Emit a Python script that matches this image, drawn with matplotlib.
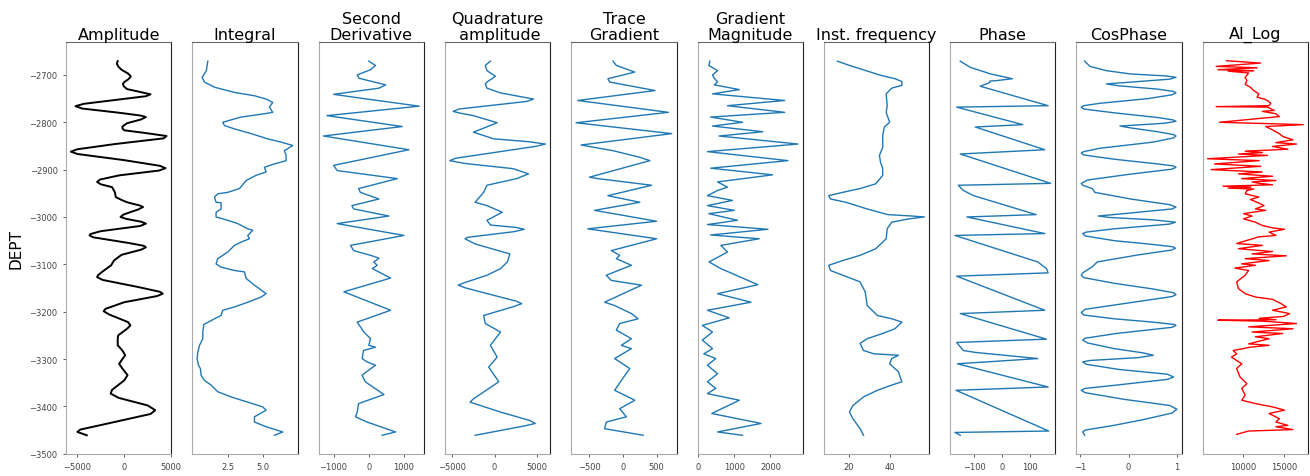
import matplotlib
matplotlib.use("Agg")
from matplotlib import pyplot as plt

# each track: depth list + value list

amp_depth = [-2671, -2676, -2682, -2689, -2697, -2703, -2709, -2715, -2719, -2724, -2730, -2736,
             -2741, -2745, -2753, -2761, -2766, -2771, -2780, -2786, -2789, -2794, -2802, -2809,
             -2813, -2817, -2822, -2829, -2834, -2846, -2857, -2862, -2867, -2880, -2892, -2897,
             -2902, -2912, -2921, -2926, -2931, -2937, -2948, -2958, -2964, -2969, -2976, -2979,
             -2984, -2995, -3000, -3004, -3010, -3014, -3019, -3030, -3036, -3039, -3043, -3055,
             -3061, -3064, -3069, -3080, -3092, -3102, -3115, -3123, -3127, -3133, -3148, -3158,
             -3162, -3167, -3180, -3194, -3199, -3206, -3222, -3229, -3236, -3250, -3257, -3271,
             -3282, -3292, -3300, -3310, -3320, -3334, -3345, -3365, -3373, -3382, -3398, -3408,
             -3416, -3435, -3449, -3454, -3461]
amp_val = [-700, -800, -650, -300, 400, 700, 450, 0, -150, -50, 300, 1700,
           2800, 2300, -1000, -4300, -5200, -4500, -500, 1800, 2300, 1800, 300, -200,
           -200, 0, 2000, 4500, 4200, -1000, -5000, -5700, -5000, 0, 3800, 4400,
           3700, -500, -2600, -2900, -2500, -1300, -1000, -900, -300, 300, 1700, 2000,
           1500, -100, -400, 200, 1800, 2300, 1700, -2500, -3600, -3700, -3300, 500,
           2100, 2300, 1800, -300, -1100, -1400, -2300, -2800, -2900, -2300, 1500, 3800,
           4100, 3500, 0, -2000, -2200, -1600, 400, 650, 300, -650, -700, -700,
           -200, 100, -200, -550, -200, 350, 0, -1300, -1450, -600, 2500, 3300,
           2800, -1500, -4700, -5000, -4000]

int_depth = [-2671, -2680, -2691, -2705, -2715, -2726, -2737, -2744, -2751, -2758, -2768, -2779,
             -2782, -2789, -2800, -2807, -2814, -2824, -2835, -2842, -2849, -2860, -2870, -2881,
             -2888, -2895, -2905, -2912, -2923, -2940, -2948, -2951, -2958, -2969, -2970, -2983,
             -2990, -3000, -3007, -3014, -3025, -3028, -3039, -3046, -3053, -3060, -3074, -3088,
             -3099, -3106, -3113, -3116, -3130, -3144, -3162, -3169, -3180, -3190, -3197, -3208,
             -3215, -3227, -3243, -3257, -3271, -3285, -3299, -3313, -3320, -3334, -3345, -3355,
             -3369, -3380, -3391, -3401, -3408, -3422, -3433, -3443, -3454, -3461]
int_val = [1.10, 1.05, 1.0, 0.70, 0.86, 1.57, 2.97, 4.37, 5.19, 5.65, 5.42, 5.65,
           5.07, 3.43, 2.15, 2.27, 2.97, 4.14, 5.30, 6.24, 7.06, 6.47, 6.59, 6.59,
           5.77, 5.07, 5.19, 4.49, 3.79, 3.32, 2.5, 1.80, 1.57, 1.68, 2.03, 2.03,
           1.68, 1.68, 2.5, 3.20, 3.90, 4.25, 3.9, 4.02, 3.43, 2.97, 2.5, 1.80,
           1.68, 2.03, 2.97, 3.67, 3.79, 4.37, 5.19, 4.84, 3.90, 2.97, 2.15, 2.03,
           1.57, 0.82, 0.75, 0.75, 0.52, 0.40, 0.35, 0.44, 0.58, 0.63, 0.86, 1.33,
           1.80, 2.73, 3.90, 4.95, 5.19, 4.37, 4.37, 5.19, 6.36, 5.77]

sd_depth = [-2671, -2680, -2689, -2700, -2707, -2714, -2721, -2728, -2741, -2749, -2766, -2786,
            -2809, -2829, -2858, -2891, -2902, -2919, -2940, -2948, -2962, -2976, -2983, -2998,
            -3014, -3039, -3060, -3071, -3081, -3087, -3095, -3102, -3109, -3129, -3158, -3197,
            -3222, -3243, -3257, -3271, -3275, -3282, -3299, -3306, -3313, -3334, -3348, -3375,
            -3394, -3412, -3422, -3433, -3454, -3461]
sd_val = [0, 190, 50, -330, -280, 100, 480, 290, -1000, -240, 1430, -1190,
          950, -1290, 1140, -1000, -900, 810, -290, -240, 290, -480, -430, 570,
          -900, 1000, -520, -430, 50, 290, 140, 240, 100, 620, -710, 620,
          -330, -140, 50, 0, 190, -150, -190, -50, 190, -190, -100, 430,
          -290, -330, -380, -50, 760, 380]

qa_depth = [-2671, -2680, -2691, -2703, -2715, -2719, -2728, -2738, -2744, -2751, -2756, -2772,
            -2777, -2781, -2786, -2801, -2821, -2835, -2841, -2846, -2851, -2876, -2881, -2887,
            -2898, -2909, -2919, -2933, -2948, -2969, -2976, -2990, -3007, -3017, -3022, -3026,
            -3031, -3043, -3046, -3057, -3078, -3095, -3109, -3123, -3139, -3144, -3150, -3158,
            -3178, -3183, -3189, -3208, -3225, -3243, -3271, -3296, -3317, -3348, -3384, -3391,
            -3412, -3430, -3436, -3441, -3461]
qa_val = [-500, -1100, -900, 100, -900, -1100, -900, 700, 2500, 4600, 3800, -4200,
          -4900, -4000, -2500, 300, -2500, -100, 4000, 6000, 4800, -4600, -5300, -3500,
          2200, 4000, 2600, -900, -1300, -2300, -900, 900, -900, -500, 2500, 3500,
          2300, -3200, -3500, -2300, 1800, 1500, 700, -900, -3600, -4300, -3400, -1700,
          2600, 3200, 2300, -1300, -1100, 700, -500, 300, -700, 500, -2500, -2900,
          700, 4200, 4800, 3600, -2300]

tg_depth = [-2671, -2680, -2694, -2708, -2715, -2733, -2754, -2779, -2801, -2824, -2848, -2860,
            -2874, -2881, -2916, -2919, -2933, -2955, -2969, -2986, -3009, -3025, -3046, -3071,
            -3081, -3088, -3102, -3123, -3134, -3144, -3180, -3187, -3204, -3215, -3225, -3239,
            -3257, -3271, -3278, -3299, -3320, -3340, -3366, -3387, -3405, -3422, -3433, -3447,
            -3461]
tg_val = [-150, -100, 175, -225, -200, 475, -675, 675, -700, 725, -625, -150,
          250, 400, -500, -375, 425, -225, 250, -425, 500, -525, 500, -175,
          -50, -100, 125, -250, -175, 275, -275, -125, 125, 225, -50, -100,
          125, -25, 125, -125, 100, 0, -125, 175, -50, 50, -250, -275,
          300]

gm_depth = [-2671, -2680, -2691, -2700, -2707, -2715, -2721, -2731, -2740, -2754, -2765, -2779,
            -2789, -2800, -2808, -2820, -2829, -2846, -2862, -2881, -2897, -2911, -2926, -2937,
            -2944, -2955, -2965, -2976, -2986, -2993, -3007, -3016, -3026, -3038, -3046, -3060,
            -3074, -3095, -3109, -3143, -3162, -3180, -3197, -3213, -3229, -3243, -3260, -3278,
            -3289, -3299, -3313, -3331, -3348, -3362, -3373, -3387, -3415, -3436, -3454, -3461]
gm_val = [330, 300, 540, 400, 450, 540, 450, 1140, 400, 2390, 815, 2390,
          350, 1230, 400, 1790, 580, 2760, 260, 2480, 350, 2060, 540, 815,
          540, 260, 950, 260, 1000, 300, 1090, 260, 1930, 350, 1690, 630,
          815, 305, 630, 1650, 540, 1460, 260, 860, 120, 400, 120, 400,
          160, 490, 260, 540, 260, 490, 260, 1140, 380, 1740, 540, 1230]

if_depth = [-2671, -2680, -2687, -2701, -2708, -2714, -2722, -2728, -2740, -2765, -2779, -2800,
            -2810, -2828, -2853, -2870, -2884, -2898, -2912, -2930, -2940, -2948, -2955, -2962,
            -2969, -2983, -2995, -2998, -3000, -3004, -3011, -3025, -3046, -3067, -3081, -3092,
            -3102, -3113, -3123, -3137, -3158, -3187, -3208, -3215, -3222, -3236, -3246, -3257,
            -3267, -3282, -3289, -3292, -3299, -3310, -3327, -3348, -3355, -3366, -3380, -3398,
            -3412, -3426, -3447, -3461]
if_val = [14.4, 20.3, 25.5, 35.7, 42.6, 46, 46, 41, 38.3, 38.8, 38.3, 40,
          37.4, 36.6, 36.6, 35, 35.5, 36.6, 36.6, 33.2, 25.5, 17, 10.1, 11,
          18.6, 28.9, 39.1, 51, 57, 49.4, 41, 38.8, 38.3, 33.2, 25.5, 17,
          10.1, 11, 17, 25.5, 28, 29, 34, 41, 46, 42.6, 36.6, 29,
          25.5, 27.2, 32.3, 44.3, 41, 40, 44.3, 46, 41, 34, 27.2, 22,
          20.3, 22, 25.5, 27.2]

ph_depth = [-2671, -2684, -2698, -2708, -2712, -2713, -2716, -2724, -2765, -2768, -2805, -2810,
            -2858, -2867, -2929, -2933, -2944, -2955, -2995, -3000, -3035, -3039, -3095, -3109,
            -3118, -3125, -3197, -3204, -3258, -3265, -3282, -3286, -3299, -3310, -3359, -3366,
            -3452, -3455, -3461]
ph_val = [-151, -115, -42, 36, -20, -45, -45, -79, 164, -164, 73, -97,
          152, -151, 173, -158, -140, -103, 121, -127, 152, -170, 127, 158,
          164, -164, 152, -151, 158, -164, -140, -97, 127, -161, 164, -166,
          166, -170, -151]

cp_depth = [-2671, -2682, -2691, -2698, -2702, -2705, -2709, -2714, -2719, -2723, -2730, -2735,
            -2738, -2742, -2750, -2760, -2765, -2768, -2772, -2780, -2790, -2795, -2798, -2802,
            -2808, -2812, -2820, -2826, -2829, -2833, -2842, -2855, -2862, -2865, -2869, -2878,
            -2888, -2892, -2895, -2899, -2910, -2922, -2929, -2933, -2940, -2948, -2962, -2974,
            -2979, -2983, -2992, -2998, -3001, -3006, -3011, -3015, -3025, -3032, -3035, -3040,
            -3050, -3058, -3063, -3066, -3070, -3080, -3095, -3105, -3118, -3123, -3128, -3140,
            -3152, -3160, -3164, -3168, -3180, -3195, -3202, -3207, -3215, -3222, -3227, -3229,
            -3233, -3246, -3256, -3260, -3266, -3278, -3287, -3292, -3297, -3303, -3306, -3311,
            -3322, -3332, -3338, -3343, -3355, -3362, -3366, -3371, -3385, -3398, -3406, -3414,
            -3428, -3440, -3450, -3454, -3461]
cp_val = [-0.91, -0.8, -0.46, 0.04, 0.75, 0.98, 0.85, 0.2, -0.46, -0.2, 0.6, 0.93,
          0.98, 0.9, 0.4, -0.6, -0.93, -0.98, -0.93, -0.3, 0.6, 0.92, 0.98, 0.75,
          -0.18, 0.05, 0.6, 0.93, 0.98, 0.93, 0.5, -0.6, -0.93, -0.98, -0.93, -0.3,
          0.6, 0.92, 0.98, 0.9, 0.0, -0.85, -0.98, -0.95, -0.75, -0.7, 0.04, 0.85,
          0.98, 0.9, 0.0, -0.63, -0.4, 0.5, 0.97, 0.85, -0.3, -0.88, -0.95, -0.9,
          -0.3, 0.5, 0.92, 0.97, 0.88, 0.2, -0.65, -0.75, -0.95, -0.98, -0.93, -0.3,
          0.5, 0.93, 0.98, 0.9, 0.1, -0.9, -0.98, -0.93, -0.3, 0.5, 0.95, 0.98,
          0.9, -0.25, -0.9, -0.95, -0.85, -0.3, 0.3, 0.51, 0.2, -0.8, -0.95, -0.88,
          -0.2, 0.8, 0.93, 0.8, -0.25, -0.9, -0.98, -0.9, -0.1, 0.85, 1.0, 0.9,
          0.3, -0.3, -0.9, -0.95, -0.91]

ai_depth = [-2670, -2675, -2682, -2685, -2689, -2691, -2692, -2696, -2705, -2712, -2720, -2726,
            -2733, -2740, -2747, -2751, -2754, -2760, -2765, -2767, -2768, -2775, -2777, -2782,
            -2788, -2800, -2805, -2809, -2816, -2824, -2830, -2837, -2843, -2846, -2851, -2857,
            -2861, -2864, -2867, -2870, -2877, -2881, -2888, -2893, -2900, -2905, -2909, -2914,
            -2919, -2923, -2926, -2929, -2932, -2935, -2937, -2939, -2941, -2944, -2951, -2958,
            -2963, -2969, -2976, -2983, -2986, -2993, -2998, -3004, -3011, -3018, -3023, -3026,
            -3032, -3039, -3042, -3056, -3060, -3067, -3073, -3078, -3082, -3088, -3092, -3099,
            -3102, -3108, -3113, -3123, -3137, -3151, -3162, -3169, -3174, -3183, -3190, -3197,
            -3204, -3210, -3214, -3217, -3218, -3220, -3225, -3232, -3236, -3243, -3246, -3253,
            -3257, -3268, -3271, -3275, -3282, -3289, -3296, -3310, -3320, -3338, -3352, -3362,
            -3376, -3387, -3394, -3401, -3408, -3415, -3426, -3433, -3440, -3443, -3449, -3452,
            -3459]
ai_val = [8000, 12170, 6750, 11750, 6960, 11330, 8210, 10710, 10290, 10500, 10290, 10920,
          11330, 11960, 11750, 12590, 13000, 13420, 13210, 6750, 13000, 13840, 12380, 14040,
          14460, 7160, 17380, 12790, 13630, 14460, 14880, 16130, 14040, 16550, 13630, 15500,
          10290, 12380, 9460, 13000, 5700, 12000, 6540, 12200, 6120, 12380, 9460, 13630,
          9870, 14040, 11130, 12000, 13630, 7580, 11000, 8210, 11330, 10500, 10290, 11960,
          10920, 11750, 12590, 11540, 12790, 10080, 11130, 10080, 11540, 12380, 13630, 15090,
          13210, 14040, 11960, 9250, 12380, 9460, 13630, 11130, 15300, 10290, 13210, 9870,
          11540, 9040, 10710, 10290, 9250, 9460, 10290, 11540, 13630, 14670, 15300, 13630,
          15710, 15000, 12000, 14040, 6960, 12500, 16550, 10710, 16130, 11130, 14880, 11540,
          13210, 10710, 13210, 10920, 8830, 9250, 8620, 9870, 9250, 9670, 10500, 9870,
          10290, 9870, 11540, 13630, 15090, 13210, 14460, 14040, 15500, 14040, 16130, 10710,
          9250]

titles = ["Amplitude", "Integral", "Second\nDerivative", "Quadrature\n amplitude",
          "Trace\nGradient", "Gradient\nMagnitude", "Inst. frequency", "Phase",
          "CosPhase", "AI_Log"]
depths = [amp_depth, int_depth, sd_depth, qa_depth, tg_depth, gm_depth, if_depth,
          ph_depth, cp_depth, ai_depth]
values = [amp_val, int_val, sd_val, qa_val, tg_val, gm_val, if_val, ph_val, cp_val, ai_val]
colors = ["black"] + ["#1f77b4"] * 8 + ["red"]
xticks = [[-5000, 0, 5000], [2.5, 5.0], [-1000, 0, 1000], [-5000, 0, 5000],
          [-500, 0, 500], [0, 1000, 2000], [20, 40], [-100, 0, 100], [-1, 0, 1],
          [10000, 15000]]

fig, axes = plt.subplots(1, 10, sharey=True, figsize=(13.1, 4.77), dpi=100)
plt.subplots_adjust(left=0.0504, right=0.9985, top=0.9099, bottom=0.0461, wspace=0.2)

for i, ax in enumerate(axes):
    lw = 1.4 if i == 0 else 1.0
    ax.plot(values[i], depths[i], color=colors[i], lw=lw)
    ax.set_title(titles[i], fontsize=11.5, pad=2, linespacing=1.05)
    ax.set_xticks(xticks[i])
    ax.tick_params(labelsize=6, length=2.5, width=0.6, colors="#444444")
    # frame looks lighter on left/bottom than top/right in the original
    ax.spines["left"].set_color("#aaaaaa")
    ax.spines["bottom"].set_color("#aaaaaa")
    ax.spines["top"].set_color("#666666")
    ax.spines["right"].set_color("#222222")
    if i > 0:
        ax.tick_params(axis="y", left=False, labelleft=False)

axes[0].set_ylabel("DEPT", fontsize=11)

fig.savefig("out.png", dpi=100)
